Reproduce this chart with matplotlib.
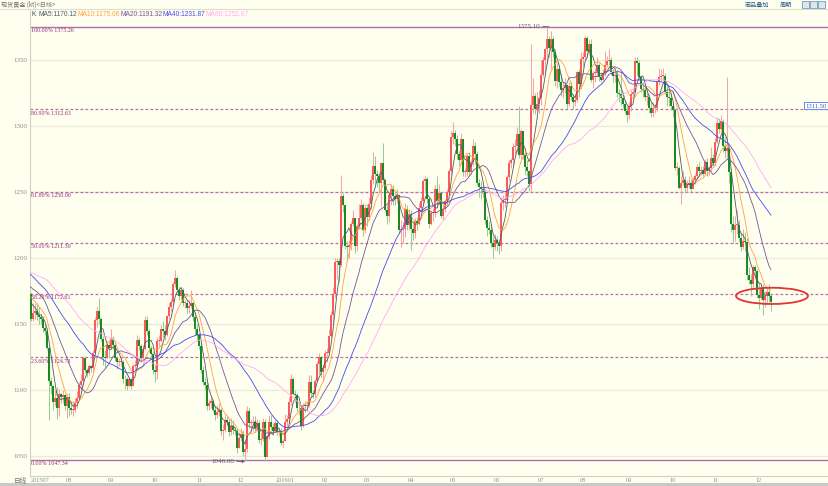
import matplotlib

matplotlib.use("Agg")

import matplotlib.pyplot as plt
import numpy as np
import pandas as pd
from matplotlib.patches import Ellipse

W, H = 829, 486

# closes before the visible window (Apr-Jun 2015); they only feed the moving averages
close_before = [
    1219, 1211, 1202, 1194, 1207, 1198, 1193, 1200, 1204, 1203, 1193, 1190, 1186, 1194, 1178,
    1202, 1213, 1205, 1183, 1178, 1186, 1193, 1192, 1184, 1189, 1183, 1192, 1216, 1219, 1225,
    1227, 1208, 1209, 1205, 1204, 1205, 1187, 1187, 1188, 1190, 1193, 1194, 1184, 1176, 1168,
    1174, 1176, 1186, 1179, 1180, 1185, 1181, 1180, 1202, 1201, 1186, 1176, 1175, 1171, 1173,
    1179, 1172,
]

month_labels = ["201507", "08", "09", "10", "11", "12", "201601", "02", "03", "04",
                "05", "06", "07", "08", "09", "10", "11", "12"]
month_days = [23, 21, 22, 22, 21, 22, 20, 21, 22, 21, 22, 22, 21, 23, 22, 21, 22, 7]

close = [
    # 2015-07
    1168, 1168, 1167, 1173, 1154, 1158, 1160, 1157, 1155, 1154, 1147, 1145, 1132, 1107, 1103, 1091,
    1094, 1086, 1097, 1095, 1096, 1088, 1095,
    # 2015-08
    1086, 1085, 1085, 1090, 1094, 1104, 1107, 1124, 1115, 1113, 1118, 1117, 1128, 1153, 1160, 1154,
    1139, 1125, 1124, 1134, 1132,
    # 2015-09
    1139, 1134, 1124, 1121, 1121, 1121, 1108, 1108, 1103, 1108, 1103, 1118, 1118, 1138, 1133, 1124,
    1131, 1153, 1145, 1132, 1127, 1115,
    # 2015-10
    1114, 1137, 1137, 1146, 1145, 1142, 1156, 1163, 1167, 1180, 1185, 1176, 1171, 1176, 1166, 1166,
    1162, 1164, 1166, 1155, 1146, 1142,
    # 2015-11
    1133, 1115, 1106, 1104, 1088, 1090, 1092, 1085, 1081, 1083, 1085, 1069, 1070, 1077, 1076, 1068,
    1073, 1070, 1069, 1056, 1064,
    # 2015-12
    1067, 1053, 1055, 1084, 1075, 1075, 1076, 1071, 1075, 1062, 1063, 1076, 1049, 1065, 1076, 1072,
    1069, 1075, 1068, 1069, 1060, 1061,
    # 2016-01
    1076, 1078, 1091, 1108, 1097, 1096, 1086, 1086, 1073, 1089, 1088, 1089, 1106, 1098, 1097, 1107,
    1120, 1125, 1114, 1117,
    # 2016-02
    1128, 1128, 1141, 1157, 1173, 1197, 1198, 1195, 1247, 1240, 1209, 1208, 1210, 1226, 1230, 1209,
    1224, 1230, 1240, 1221, 1238,
    # 2016-03
    1231, 1241, 1259, 1270, 1264, 1262, 1257, 1272, 1259, 1236, 1232, 1248, 1252, 1247, 1245, 1248,
    1221, 1221, 1222, 1237, 1225, 1233,
    # 2016-04
    1222, 1219, 1228, 1226, 1238, 1243, 1258, 1260, 1245, 1226, 1234, 1234, 1252, 1243, 1249, 1232,
    1237, 1243, 1250, 1266, 1292,
    # 2016-05
    1295, 1290, 1279, 1274, 1290, 1265, 1265, 1277, 1265, 1273, 1285, 1279, 1257, 1254, 1252, 1250,
    1229, 1223, 1221, 1211, 1208, 1214,
    # 2016-06
    1211, 1209, 1242, 1244, 1244, 1261, 1272, 1274, 1284, 1285, 1294, 1278, 1296, 1278, 1269, 1266,
    1256, 1316, 1323, 1313, 1317, 1321,
    # 2016-07
    1339, 1350, 1358, 1366, 1359, 1366, 1356, 1334, 1343, 1333, 1327, 1329, 1331, 1317, 1330, 1322,
    1318, 1320, 1341, 1332, 1351,
    # 2016-08
    1352, 1367, 1357, 1362, 1335, 1340, 1340, 1346, 1337, 1335, 1340, 1346, 1349, 1350, 1341, 1338,
    1339, 1325, 1324, 1321, 1317, 1311, 1308,
    # 2016-09
    1315, 1324, 1326, 1349, 1348, 1337, 1328, 1327, 1322, 1322, 1314, 1310, 1314, 1314, 1333, 1337,
    1338, 1338, 1326, 1322, 1321, 1315,
    # 2016-10
    1312, 1268, 1268, 1253, 1257, 1259, 1253, 1255, 1257, 1252, 1259, 1262, 1269, 1266, 1267, 1264,
    1273, 1266, 1268, 1276, 1272,
    # 2016-11
    1288, 1302, 1298, 1304, 1285, 1281, 1283, 1265, 1226, 1221, 1225, 1225, 1215, 1208, 1213, 1212,
    1187, 1183, 1180, 1193, 1190, 1172,
    # 2016-12
    1170, 1177, 1168, 1171, 1174, 1171, 1167,
]

high = [
    1174, 1172, 1170, 1175, 1174, 1166, 1166, 1166, 1163, 1158, 1156, 1150, 1147, 1133, 1110, 1104,
    1100, 1102, 1101, 1098, 1100, 1097, 1098,
    1098, 1092, 1092, 1094, 1099, 1106, 1112, 1126, 1126, 1117, 1120, 1119, 1130, 1155, 1163, 1170,
    1155, 1141, 1130, 1137, 1136,
    1146, 1141, 1136, 1126, 1124, 1125, 1123, 1111, 1110, 1110, 1109, 1120, 1123, 1142, 1140, 1135,
    1134, 1156, 1156, 1146, 1133, 1129,
    1119, 1140, 1142, 1149, 1152, 1149, 1157, 1167, 1169, 1182, 1191, 1186, 1178, 1178, 1177, 1168,
    1168, 1168, 1176, 1167, 1159, 1150,
    1142, 1136, 1118, 1110, 1108, 1093, 1095, 1093, 1089, 1089, 1090, 1086, 1074, 1082, 1080, 1078,
    1079, 1077, 1072, 1071, 1068,
    1071, 1070, 1063, 1088, 1086, 1078, 1080, 1080, 1078, 1077, 1068, 1079, 1078, 1067, 1081, 1081,
    1075, 1077, 1077, 1072, 1071, 1063,
    1082, 1081, 1095, 1112, 1110, 1100, 1098, 1091, 1089, 1090, 1092, 1092, 1111, 1111, 1100, 1108,
    1122, 1128, 1126, 1119,
    1130, 1132, 1146, 1160, 1178, 1200, 1200, 1200, 1263, 1249, 1240, 1213, 1214, 1228, 1236, 1228,
    1226, 1241, 1245, 1242, 1241,
    1241, 1246, 1263, 1280, 1277, 1267, 1264, 1273, 1287, 1260, 1240, 1250, 1256, 1255, 1250, 1252,
    1248, 1229, 1227, 1242, 1240, 1237,
    1236, 1226, 1230, 1231, 1242, 1246, 1260, 1262, 1261, 1246, 1236, 1238, 1255, 1262, 1256, 1250,
    1240, 1245, 1252, 1268, 1296,
    1303, 1297, 1293, 1281, 1295, 1290, 1268, 1279, 1280, 1275, 1290, 1288, 1281, 1260, 1258, 1255,
    1252, 1232, 1228, 1226, 1216, 1218,
    1217, 1213, 1244, 1248, 1250, 1263, 1274, 1276, 1287, 1290, 1299, 1315, 1298, 1296, 1280, 1274,
    1267, 1362, 1336, 1325, 1326, 1327,
    1350, 1352, 1359, 1375, 1368, 1372, 1368, 1358, 1348, 1346, 1340, 1333, 1336, 1332, 1333, 1333,
    1324, 1324, 1342, 1343, 1356,
    1356, 1368, 1368, 1365, 1366, 1342, 1344, 1352, 1348, 1341, 1343, 1357, 1353, 1358, 1352, 1343,
    1341, 1343, 1328, 1342, 1325, 1320, 1315,
    1318, 1327, 1328, 1352, 1352, 1350, 1338, 1333, 1330, 1328, 1324, 1318, 1318, 1317, 1335, 1344,
    1343, 1344, 1340, 1330, 1327, 1325,
    1318, 1313, 1273, 1270, 1262, 1266, 1262, 1259, 1262, 1260, 1261, 1264, 1271, 1273, 1270, 1270,
    1275, 1276, 1270, 1284, 1279,
    1291, 1307, 1306, 1308, 1305, 1292, 1337, 1285, 1268, 1232, 1232, 1236, 1229, 1219, 1222, 1220,
    1215, 1193, 1188, 1195, 1195, 1192,
    1182, 1180, 1180, 1175, 1178, 1180, 1173,
]

low = [
    1162, 1162, 1162, 1160, 1152, 1152, 1154, 1153, 1150, 1150, 1144, 1142, 1130, 1077, 1097, 1085,
    1088, 1078, 1080, 1090, 1090, 1085, 1079,
    1080, 1082, 1080, 1083, 1086, 1092, 1100, 1103, 1113, 1110, 1111, 1114, 1114, 1127, 1148, 1150,
    1137, 1119, 1117, 1124, 1124,
    1131, 1131, 1122, 1116, 1118, 1118, 1105, 1101, 1100, 1102, 1101, 1103, 1115, 1117, 1130, 1121,
    1122, 1130, 1142, 1129, 1124, 1112,
    1106, 1108, 1133, 1136, 1140, 1138, 1141, 1154, 1160, 1164, 1178, 1174, 1168, 1168, 1164, 1162,
    1158, 1158, 1162, 1152, 1142, 1137,
    1131, 1113, 1104, 1100, 1085, 1085, 1086, 1083, 1077, 1079, 1080, 1066, 1062, 1068, 1073, 1065,
    1066, 1067, 1066, 1052, 1056,
    1061, 1050, 1046, 1053, 1071, 1069, 1069, 1068, 1069, 1060, 1058, 1061, 1047, 1049, 1063, 1070,
    1066, 1068, 1066, 1065, 1058, 1057,
    1061, 1071, 1073, 1089, 1096, 1091, 1084, 1081, 1070, 1072, 1083, 1084, 1087, 1095, 1094, 1095,
    1106, 1112, 1110, 1107,
    1115, 1121, 1127, 1140, 1151, 1170, 1184, 1182, 1194, 1235, 1207, 1198, 1200, 1206, 1224, 1204,
    1205, 1222, 1229, 1217, 1219,
    1224, 1229, 1237, 1256, 1257, 1254, 1250, 1239, 1256, 1235, 1226, 1227, 1240, 1240, 1240, 1242,
    1219, 1208, 1211, 1216, 1221, 1221,
    1206, 1214, 1215, 1221, 1225, 1235, 1240, 1251, 1242, 1223, 1225, 1228, 1231, 1239, 1240, 1230,
    1229, 1235, 1240, 1246, 1264,
    1286, 1285, 1275, 1270, 1271, 1262, 1261, 1262, 1262, 1264, 1270, 1271, 1255, 1246, 1245, 1246,
    1226, 1217, 1218, 1208, 1200, 1206,
    1205, 1203, 1205, 1236, 1239, 1244, 1258, 1268, 1270, 1279, 1280, 1276, 1275, 1275, 1263, 1262,
    1251, 1250, 1310, 1309, 1311, 1310,
    1316, 1337, 1339, 1347, 1352, 1343, 1352, 1330, 1329, 1330, 1323, 1321, 1325, 1314, 1315, 1320,
    1313, 1315, 1318, 1322, 1328,
    1345, 1350, 1352, 1354, 1333, 1329, 1333, 1338, 1334, 1333, 1335, 1338, 1345, 1345, 1339, 1333,
    1333, 1322, 1318, 1316, 1314, 1310, 1303,
    1305, 1311, 1321, 1326, 1339, 1335, 1326, 1322, 1320, 1316, 1310, 1307, 1307, 1310, 1311, 1331,
    1334, 1334, 1324, 1315, 1315, 1312,
    1307, 1267, 1263, 1252, 1241, 1255, 1250, 1250, 1253, 1250, 1253, 1256, 1260, 1262, 1263, 1262,
    1264, 1262, 1263, 1266, 1269,
    1270, 1287, 1295, 1295, 1280, 1276, 1275, 1257, 1220, 1211, 1213, 1218, 1212, 1205, 1207, 1205,
    1183, 1180, 1171, 1177, 1184, 1170,
    1161, 1168, 1157, 1163, 1166, 1167, 1160,
]

ma_periods = [5, 10, 20, 40, 60]
ma_last = ["1170.12", "1175.06", "1191.32", "1231.87", "1252.67"]
ma_colors = ["#4f5b6b", "#ffa040", "#74559a", "#4848f4", "#ffaaf6"]

fib_pct = ["100.00%", "80.90%", "61.80%", "50.00%", "38.20%", "23.60%", "0.00%"]
fib_values = [1375.26, 1312.63, 1250.00, 1211.30, 1172.61, 1124.73, 1047.34]

BG = "#fffff0"
UP_BODY, UP_WICK = "#f65c5c", "#f8a4a4"
DN_BODY, DN_WICK = "#1d8a1d", "#98cc98"
FIB = "#b46ca8"
FIB_TEXT = "#8c2c7c"
GRID = "#ecebd9"
AXIS_TEXT = "#8c8c8c"

assert len(close) == len(high) == len(low) == sum(month_days)

# pixel layout of the trading window: 2 px per day, y scale 1.32 px per dollar
px_day = 2.0
x0_px = 23.0
y_ref_px, y_ref_val, px_per_usd = 126.0, 1300.0, 1.32
ax_left, ax_top, ax_right, ax_bottom = 30, 10, 829, 476


def y_from_px(py):
    return y_ref_val - (py - y_ref_px) / px_per_usd


def fx(px):
    return px / W


def fy(py):
    return 1 - py / H


full_close = pd.Series(close_before + close, dtype=float)
n_pre = len(close_before)
c = np.array(close, dtype=float)
o = full_close.shift(1).to_numpy()[n_pre:]
h = np.array(high, dtype=float)
lo = np.array(low, dtype=float)
idx = np.arange(len(c))

fig = plt.figure(figsize=(W / 100, H / 100), dpi=100, facecolor=BG)
ax = fig.add_axes([fx(ax_left), fy(ax_bottom), fx(ax_right - ax_left), (ax_bottom - ax_top) / H])
ax.set_facecolor(BG)
ax.set_xlim((ax_left - x0_px) / px_day, (ax_right - x0_px) / px_day)
ax.set_ylim(y_from_px(ax_bottom), y_from_px(ax_top))

# grid + y labels
yticks = np.arange(1050, 1351, 50)
ax.set_yticks(yticks)
ax.set_yticklabels([str(v) for v in yticks], fontsize=5.0, color=AXIS_TEXT, family="Liberation Serif")
ax.tick_params(axis="y", length=0, pad=2.2)
ax.set_xticks([])
for v in yticks:
    ax.axhline(v, color=GRID, linewidth=1.0, zorder=0)
for side in ["top", "right"]:
    ax.spines[side].set_visible(False)
ax.spines["left"].set_color("#cfcfc4")
ax.spines["bottom"].set_color("#cfcfc4")
ax.spines["left"].set_linewidth(0.8)
ax.spines["bottom"].set_linewidth(0.8)

# fibonacci levels
for k, (pct, val) in enumerate(zip(fib_pct, fib_values)):
    solid = k in (0, len(fib_values) - 1)
    ax.axhline(val, color=FIB, linewidth=1.0 if solid else 0.9,
               linestyle="-" if solid else (0, (2.2, 1.8)), zorder=1)
    ax.text(4.2, val - 0.9, f"{pct} {val:.2f}", fontsize=4.3, color=FIB_TEXT,
            family="Liberation Serif", va="top", ha="left", zorder=5)

# candles
up = c >= o
wick_colors = np.where(up, UP_WICK, DN_WICK)
body_colors = np.where(up, UP_BODY, DN_BODY)
ax.vlines(idx, lo, h, colors=wick_colors, linewidth=0.75, zorder=2)
body_h = np.maximum(np.abs(c - o), 0.6)
ax.bar(idx, body_h, bottom=np.minimum(o, c), width=0.75, color=body_colors, linewidth=0, zorder=3)

# moving averages
for period, color in zip(ma_periods, ma_colors):
    ma = full_close.rolling(period).mean().to_numpy()[n_pre:]
    ax.plot(idx, ma, color=color, linewidth=0.6, zorder=4)

# high / low marks
hi_i = int(np.argmax(h))
lo_i = int(np.argmin(lo))
ax.annotate("1375.10", xy=(hi_i + 1, fib_values[0]),
            xytext=(hi_i - 3.5, fib_values[0]), fontsize=5.0, color="#55606e", ha="right", va="center",
            family="Liberation Serif",
            arrowprops=dict(arrowstyle="-", color="#55606e", linewidth=0.6, shrinkA=0, shrinkB=0))
ax.annotate(f"{lo[lo_i]:.2f}", xy=(lo_i, y_from_px(461.5)), xytext=(lo_i - 5.5, y_from_px(461.5)),
            fontsize=5.0, color="#55606e", ha="right", va="center", family="Liberation Serif",
            arrowprops=dict(arrowstyle="->", color="#55606e", linewidth=0.6, shrinkA=0, shrinkB=0,
                            mutation_scale=4))

# red ellipse around the last candles on the 38.2% level
ax.add_patch(Ellipse((idx[-1] + 0.5, fib_values[4] - 1.3), 36, 12.3, fill=False,
                     edgecolor="#e63232", linewidth=1.3, zorder=6))

# price marker on the right
fig.text(fx(816), fy(106), "1311.50", fontsize=4.8, color="#3f5fb0", ha="center", va="center",
         family="Liberation Serif",
         bbox=dict(boxstyle="square,pad=0.15", facecolor="#ffffff", edgecolor="#5c8cf0", linewidth=0.7))

# month labels
offsets = np.concatenate([[0], np.cumsum(month_days)[:-1]])
for k, (lab, start) in enumerate(zip(month_labels, offsets)):
    if k == 0:
        fig.text(fx(31), fy(480.5), lab, fontsize=4.6, color=AXIS_TEXT, ha="left", va="center",
                 family="Liberation Serif")
    else:
        ax.text(start, -4.5 / (ax_bottom - ax_top), lab, transform=ax.get_xaxis_transform(),
                fontsize=4.6, color=AXIS_TEXT, ha="center", va="center", family="Liberation Serif")
fig.text(fx(21), fy(480.5), "日线", fontsize=4.8, color="#707070", ha="center", va="center",
         family=["Noto Sans CJK SC", "DejaVu Sans"])
fig.patches.append(plt.Rectangle((0, 0), 1, fy(482.5), transform=fig.transFigure,
                                 facecolor="#c9c9c9", edgecolor="none"))

# header
fig.add_artist(plt.Line2D([0, 1], [fy(9.3), fy(9.3)], color="#dcdcd0", linewidth=0.8))
fig.text(fx(1), fy(4.5), "现货黄金 (kt)<日线>", fontsize=4.4, color="#707070", ha="left", va="center",
         family=["Noto Sans CJK SC", "DejaVu Sans"])
fig.text(fx(757), fy(4.5), "商品叠加", fontsize=4.4, color="#2c5a90", ha="center", va="center",
         family=["Noto Sans CJK SC", "DejaVu Sans"])
fig.text(fx(786), fy(4.5), "周期", fontsize=4.4, color="#2c5a90", ha="center", va="center",
         family=["Noto Sans CJK SC", "DejaVu Sans"])
for bx in [805, 813, 821]:
    fig.patches.append(plt.Rectangle((fx(bx - 3), fy(8)), 7 / W, 7 / H, transform=fig.transFigure,
                                     facecolor="#dbe6f0", edgecolor="#5d87b0", linewidth=0.5))

fig.text(fx(31), fy(14), "K", fontsize=4.8, color="#3a4656", ha="left", va="center",
         family="Liberation Sans")
legend_x = [39, 78, 121, 163, 206]
for px, period, val, color in zip(legend_x, ma_periods, ma_last, ma_colors):
    fig.text(fx(px), fy(14), f"MA{period}:{val}", fontsize=4.8, color=color, ha="left", va="center",
             family="Liberation Sans")

fig.savefig("out.png", dpi=100, facecolor=BG)
